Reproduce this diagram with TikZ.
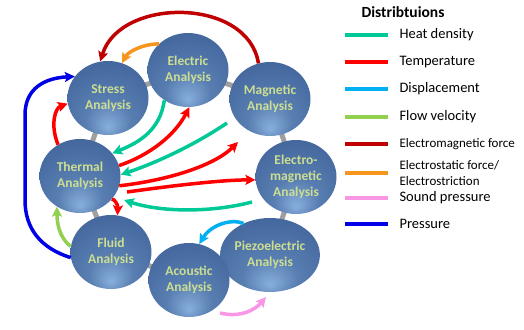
\documentclass[tikz,border=0pt]{standalone}
\usepackage{fontspec}
\setmainfont{Carlito}
\usepackage{tikz}
\usetikzlibrary{arrows.meta,shapes.geometric,backgrounds}
\definecolor{heatgreen}{RGB}{0,200,150}
\definecolor{tempred}{RGB}{255,0,0}
\definecolor{dispblue}{RGB}{0,176,240}
\definecolor{flowgreen}{RGB}{146,208,80}
\definecolor{emred}{RGB}{192,0,0}
\definecolor{esorange}{RGB}{247,150,30}
\definecolor{soundpink}{RGB}{250,150,230}
\definecolor{pressblue}{RGB}{0,0,230}
\definecolor{balldark}{RGB}{48,78,125}
\definecolor{ballmid}{RGB}{68,104,158}
\definecolor{ballhi}{RGB}{135,175,220}
\definecolor{labelcol}{RGB}{205,222,145}
\pgfdeclareradialshading{ballshade}{\pgfpoint{0bp}{-20bp}}{color(0bp)=(ballhi); color(14bp)=(ballmid!70!ballhi); color(34bp)=(ballmid); color(62bp)=(balldark)}

\begin{document}
\begin{tikzpicture}[x=1pt,y=-1pt,
    analysis/.style={ellipse,minimum width=81pt,minimum height=74pt,inner sep=0pt,shade,shading=ballshade,
      align=center,text=labelcol,font=\fontsize{13.5}{16}\selectfont\bfseries},
    flow/.style={line width=3.5pt,-{Stealth[length=10pt,width=10pt,inset=2pt]}},
    legtext/.style={anchor=west,align=left}]
    \useasboundingbox (0,0) rectangle (524,329);

    % the eight analyses
    \node[analysis] (stress)   at (108,98)  {Stress\\Analysis};
    \node[analysis] (electric) at (188,70)  {Electric\\Analysis};
    \node[analysis] (magnetic) at (270,99)  {Magnetic\\Analysis};
    \node[analysis] (emag)     at (296,177) {Electro-\\magnetic\\Analysis};
    \node[analysis] (piezo)    at (270,255) {Piezoelectric\\Analysis};
    \node[analysis] (acoustic) at (189,280) {Acoustic\\Analysis};
    \node[analysis] (fluid)    at (111,252) {Fluid\\Analysis};
    \node[analysis] (thermal)  at (80,176)  {Thermal\\Analysis};

    \begin{scope}[on background layer]
        \draw[gray!75, line width=5pt] (stress.center) -- (electric.center) -- (magnetic.center) -- (emag.center)
            -- (piezo.center) -- (acoustic.center) -- (fluid.center) -- (thermal.center) -- cycle;
    \end{scope}

    % free ends
    \coordinate (hd2) at (227,123);
    \coordinate (hd3) at (252,202);
    \coordinate (hd3e) at (124,200);
    \coordinate (tp1) at (238,142);
    \coordinate (tp2) at (127,192);
    \coordinate (sp1) at (220,313);
    \coordinate (sp2) at (266,297);

    \draw[flow, emred] (magnetic.108) .. controls (248,-3) and (120,-3) .. (stress.102);
    \draw[flow, esorange] (electric.138) .. controls (142,44) and (128,52) .. (stress.68);
    \draw[flow, pressblue] (fluid.188) .. controls (40,248) and (25,228) .. (25,200) -- (25,115)
        .. controls (25,88) and (45,78) .. (stress.147);
    \draw[flow, tempred] (thermal.125) .. controls (50,125) and (55,108) .. (stress.188);
    \draw[flow, heatgreen] (electric.232) .. controls (160,130) and (140,142) .. (thermal.35);
    \draw[flow, tempred] (thermal.15) .. controls (150,155) and (175,135) .. (electric.272);
    \draw[flow, heatgreen] (hd2) .. controls (190,148) and (150,165) .. (thermal.2);
    \draw[flow, tempred] (thermal.-14) .. controls (170,180) and (215,165) .. (tp1);
    \draw[flow, tempred] (tp2) .. controls (170,186) and (220,180) .. (emag.184);
    \draw[flow, tempred] (thermal.-36) .. controls (114,199) and (118,204) .. (fluid.80);
    \draw[flow, heatgreen] (hd3) .. controls (210,213) and (160,212) .. (hd3e);
    \draw[flow, flowgreen] (fluid.172) .. controls (62,240) and (57,228) .. (thermal.233);
    \draw[flow, dispblue] (piezo.130) .. controls (230,218) and (210,226) .. (acoustic.74);
    \draw[flow, soundpink] (sp1) .. controls (240,318) and (255,310) .. (sp2);

    % legend
    \node[font=\fontsize{15.5}{18}\selectfont\bfseries] (legtitle) at (403,12) {Distribtuions};
    \foreach \y/\c/\s/\t [count=\i] in {35/heatgreen/14.5/Heat density, 62/tempred/14.5/Temperature,
        89/dispblue/14.5/Displacement, 117/flowgreen/14.5/Flow velocity, 144/emred/13/Electromagnetic force,
        173/esorange/13/{Electrostatic force/\\Electrostriction}, 198/soundpink/14.5/Sound pressure,
        224/pressblue/14.5/Pressure}
    {
        \node[legtext, font=\fontsize{\s}{16}\selectfont] (leg\i) at (396,\y) {\t};
        \draw[line width=3.5pt, \c] ([xshift=-8pt]leg\i.west) -- ++(-43,0);
    }
\end{tikzpicture}
\end{document}
